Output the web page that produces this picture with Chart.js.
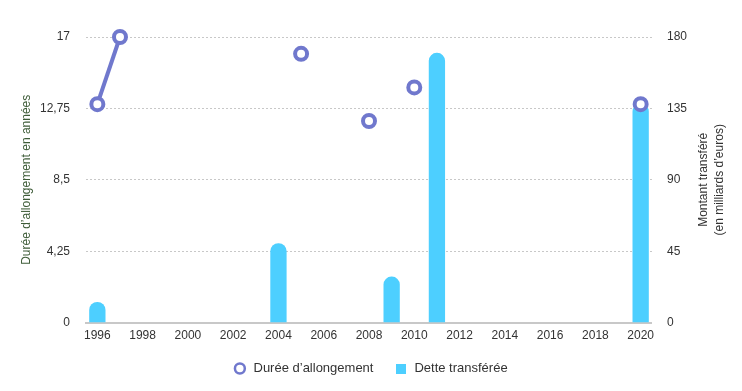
<!DOCTYPE html>
<html>
<head>
<meta charset="utf-8">
<script src="https://cdn.jsdelivr.net/npm/chart.js@4"></script>
<style>
  html, body { margin: 0; padding: 0; background: #fff; }
  #wrap { width: 742px; height: 391px; }
</style>
</head>
<body>
<div id="wrap"><canvas id="chart" width="742" height="391"></canvas></div>
<script>
// data
const years = ['1996','1997','1998','1999','2000','2001','2002','2003','2004','2005','2006','2007','2008',
  '2009','2010','2011','2012','2013','2014','2015','2016','2017','2018','2019','2020'];
const dureeAllongement = [13, 17, null, null, null, null, null, null, null, 16, null, null, 12,
  null, 14, null, null, null, null, null, null, null, null, null, 13];
const detteTransferee = [13, null, null, null, null, null, null, null, 50, null, null, null, null,
  29, null, 170, null, null, null, null, null, null, null, null, 138];
const leftTicks = [0, 4.25, 8.5, 12.75, 17];
const rightTicks = [0, 45, 90, 135, 180];

const fontFamily = '"Liberation Sans", Arial, sans-serif';
const lineColor = '#7078cd';
const barColor = '#4dcfff';

const fmt = v => String(v).replace('.', ',');

// 10x10 square for the bar legend entry
const square = document.createElement('canvas');
square.width = 10;
square.height = 10;
const sq = square.getContext('2d');
sq.fillStyle = barColor;
sq.fillRect(0, 0, 10, 10);

// both axis titles, drawn bottom-to-top
const axisTitles = {
  id: 'axisTitles',
  afterLayout(chart) {
    // nudge the legend a bit to the right
    chart.legend.left += 9;
    chart.legend.right += 9;
  },
  afterDraw(chart) {
    const ctx = chart.ctx;
    const area = chart.chartArea;
    const cy = (area.top + area.bottom) / 2;
    ctx.save();
    ctx.font = '12px ' + fontFamily;
    ctx.textAlign = 'center';
    ctx.textBaseline = 'middle';

    ctx.save();
    ctx.translate(27, cy);
    ctx.rotate(-Math.PI / 2);
    ctx.fillStyle = '#3e5c38';
    ctx.fillText('Durée d\u2019allongement en années', 0, 0);
    ctx.restore();

    ctx.translate(712, cy);
    ctx.rotate(-Math.PI / 2);
    ctx.fillStyle = '#333';
    ctx.fillText('Montant transféré', 0, -8);
    ctx.fillText('(en milliards d\u2019euros)', 0, 8);
    ctx.restore();
  }
};

const ctx = document.getElementById('chart').getContext('2d');
const chart = new Chart(ctx, {
  type: 'bar',
  data: {
    labels: years,
    datasets: [{
      type: 'line',
      label: 'Durée d\u2019allongement',
      data: dureeAllongement,
      yAxisID: 'y',
      borderColor: lineColor,
      backgroundColor: '#fff',
      borderWidth: 4,
      pointRadius: 6,
      pointHoverRadius: 6,
      pointBorderWidth: 4,
      pointBackgroundColor: '#fff',
      pointBorderColor: lineColor,
      spanGaps: false,
      clip: false,
      order: 0
    }, {
      type: 'bar',
      label: 'Dette transférée',
      data: detteTransferee,
      yAxisID: 'y1',
      backgroundColor: barColor,
      borderRadius: { topLeft: 8, topRight: 8 },
      borderSkipped: 'bottom',
      order: 1
    }]
  },
  options: {
    responsive: false,
    animation: false,
    layout: { padding: { left: 24, right: 40, top: 37, bottom: 6 } },
    plugins: {
      tooltip: { enabled: false },
      legend: {
        position: 'bottom',
        labels: {
          usePointStyle: true,
          boxWidth: 7,
          boxHeight: 7,
          padding: 13,
          color: '#333',
          font: { family: fontFamily, size: 13 },
          generateLabels: chart => {
            const items = Chart.defaults.plugins.legend.labels.generateLabels(chart);
            items[0].lineWidth = 2.5;
            items[0].fillStyle = '#fff';
            items[0].text = ' ' + items[0].text + '   ';
            items[1].text = ' ' + items[1].text;
            items[1].pointStyle = square;
            return items;
          }
        }
      }
    },
    scales: {
      x: {
        grid: { display: false, drawTicks: false },
        border: { color: '#c8c8c8', width: 2 },
        ticks: {
          autoSkip: false,
          maxRotation: 0,
          padding: 6,
          color: '#333',
          font: { family: fontFamily, size: 12 },
          callback: function (v, i) { return i % 2 === 0 ? this.getLabelForValue(v) : ''; }
        }
      },
      y: {
        position: 'left',
        min: 0,
        max: 17,
        afterBuildTicks: s => { s.ticks = leftTicks.map(v => ({ value: v })); },
        grid: { color: '#c8c8c8', drawTicks: false },
        border: { display: false, dash: [2, 2] },
        ticks: {
          padding: 16,
          color: '#333',
          font: { family: fontFamily, size: 12 },
          callback: v => fmt(v)
        }
      },
      y1: {
        position: 'right',
        min: 0,
        max: 180,
        afterBuildTicks: s => { s.ticks = rightTicks.map(v => ({ value: v })); },
        grid: { display: false, drawTicks: false },
        border: { display: false },
        ticks: {
          padding: 15,
          color: '#333',
          font: { family: fontFamily, size: 12 }
        }
      }
    }
  },
  plugins: [axisTitles]
});
</script>
</body>
</html>
